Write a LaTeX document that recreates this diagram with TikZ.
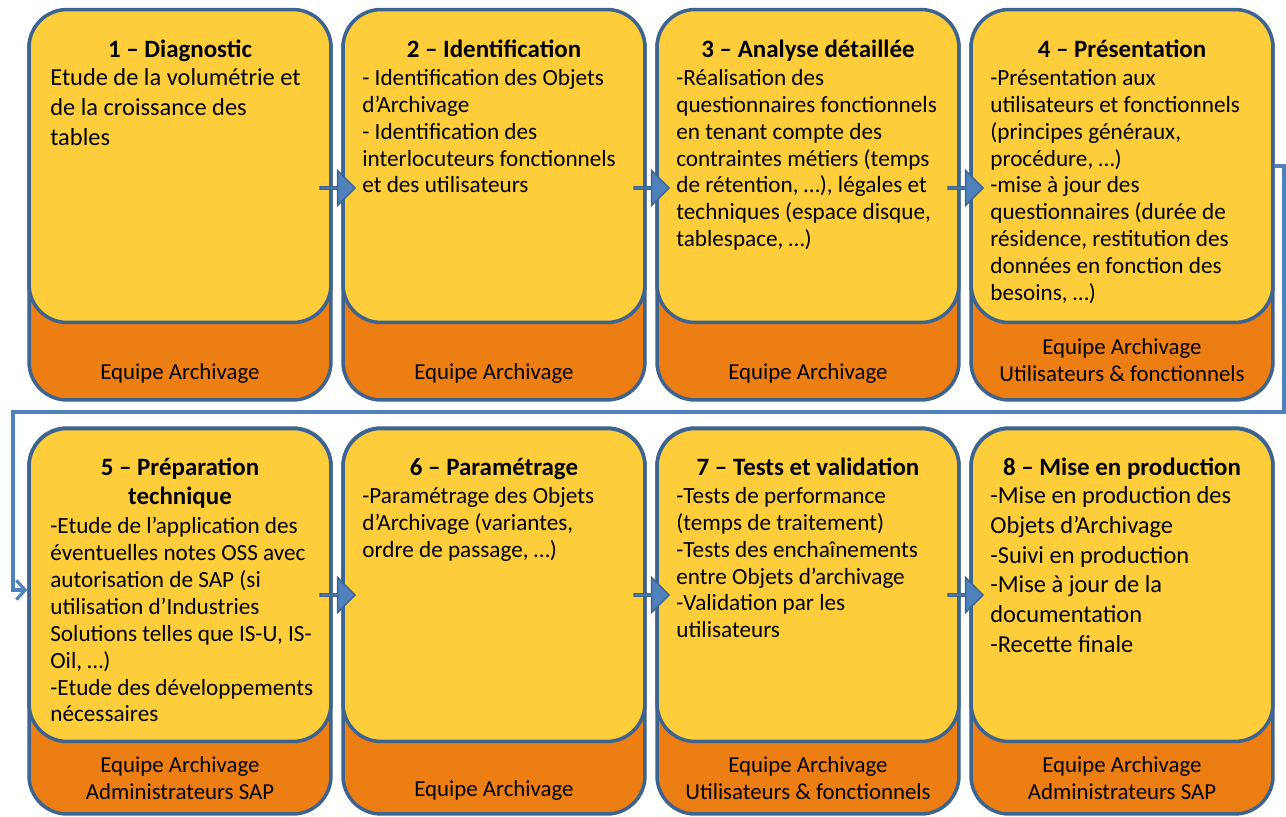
\documentclass[tikz,border=0pt]{standalone}
\usepackage{fontspec}
\setmainfont{Carlito}
\usetikzlibrary{shapes.arrows,arrows.meta}
\definecolor{boxblue}{HTML}{3D6491}
\definecolor{stepyellow}{HTML}{FDCD3B}
\definecolor{teamorange}{HTML}{EC7E14}
\definecolor{flowblue}{HTML}{4F81BD}

\begin{document}
\begin{tikzpicture}[x=0.02cm,y=-0.02cm,
    team/.style={draw=boxblue,fill=teamorange,line width=2pt,rounded corners=0.76cm,minimum width=6.04cm,minimum height=7.8cm,inner sep=0},
    stepbox/.style={draw=boxblue,fill=stepyellow,line width=2pt,rounded corners=0.76cm,minimum width=6.04cm,minimum height=6.26cm,inner sep=0},
    flow/.style={single arrow,draw=boxblue,fill=flowblue,line width=0.8pt,minimum height=0.7cm,minimum width=0.7cm,single arrow head extend=0.18cm,inner sep=0},
    title/.style={anchor=north,inner sep=0,align=center,font=\bfseries\fontsize{14.2}{15.6}\selectfont},
    body/.style={anchor=north west,inner sep=0,align=left,font=\fontsize{13.2}{15.3}\selectfont},
    bigbody/.style={anchor=north west,inner sep=0,align=left,font=\fontsize{13.9}{17}\selectfont},
    who/.style={inner sep=0,align=center,font=\fontsize{13}{15.3}\selectfont},
    back/.style={draw=flowblue,line width=1.8pt},
]
    \useasboundingbox (0,0) rectangle (1286,816);

    % orange boxes (teams)
    \node[team] (t1) at (180,205) {};
    \node[team] (t2) at (494,205) {};
    \node[team] (t3) at (808,205) {};
    \node[team] (t4) at (1122,205) {};
    \node[team,minimum height=7.72cm] (t5) at (180,621) {};
    \node[team,minimum height=7.72cm] (t6) at (494,621) {};
    \node[team,minimum height=7.72cm] (t7) at (808,621) {};
    \node[team,minimum height=7.72cm] (t8) at (1122,621) {};

    % yellow boxes (steps)
    \node[stepbox] (s1) at (180,166) {};
    \node[stepbox] (s2) at (494,166) {};
    \node[stepbox] (s3) at (808,166) {};
    \node[stepbox] (s4) at (1122,166) {};
    \node[stepbox] (s5) at (180,585) {};
    \node[stepbox] (s6) at (494,585) {};
    \node[stepbox] (s7) at (808,585) {};
    \node[stepbox] (s8) at (1122,585) {};

    % block arrows
    \node[flow] (f12) at (337,188) {};
    \node[flow] (f23) at (651,188) {};
    \node[flow] (f34) at (965,188) {};
    \node[flow] (f56) at (337,595) {};
    \node[flow] (f67) at (651,595) {};
    \node[flow] (f78) at (965,595) {};

    % line from step 4 back to step 5
    \draw[back,-{Straight Barb[length=5pt,width=11pt,line width=1.8pt]}] (s4.east) -- (1284,166) -- (1284,412) -- (13,412) -- (13,590) -- (s5.west |- 0,590);

    % titles
    \node[title] (h1) at (180,40) {1 – Diagnostic};
    \node[title] (h2) at (494,40) {2 – Identification};
    \node[title] (h3) at (808,40) {3 – Analyse détaillée};
    \node[title] (h4) at (1122,40) {4 – Présentation};
    \node[title,font=\bfseries\fontsize{14.2}{16}\selectfont] (h5) at (180,458) {5 – Préparation\\technique};
    \node[title] (h6) at (494,458) {6 – Paramétrage};
    \node[title] (h7) at (808,458) {7 – Tests et validation};
    \node[title] (h8) at (1122,458) {8 – Mise en production};

    % texts
    \node[bigbody] (b1) at (50,68) {Etude de la volumétrie et\\de la croissance des\\tables};
    \node[body] (b2) at (362,69) {- Identification des Objets\\d’Archivage\\- Identification des\\interlocuteurs fonctionnels\\et des utilisateurs};
    \node[body] (b3) at (676,69) {-Réalisation des\\questionnaires fonctionnels\\en tenant compte des\\contraintes métiers (temps\\de rétention, …), légales et\\techniques (espace disque,\\tablespace, …)};
    \node[body] (b4) at (990,69) {-Présentation aux\\utilisateurs et fonctionnels\\(principes généraux,\\procédure, …)\\-mise à jour des\\questionnaires (durée de\\résidence, restitution des\\données en fonction des\\besoins, …)};
    \node[body] (b5) at (50,517) {-Etude de l’application des\\éventuelles notes OSS avec\\autorisation de SAP (si\\utilisation d’Industries\\Solutions telles que IS-U, IS-\\Oil, …)\\-Etude des développements\\nécessaires};
    \node[body] (b6) at (362,487) {-Paramétrage des Objets\\d’Archivage (variantes,\\ordre de passage, …)};
    \node[body] (b7) at (676,487) {-Tests de performance\\(temps de traitement)\\-Tests des enchaînements\\entre Objets d’archivage\\-Validation par les\\utilisateurs};
    \node[bigbody] (b8) at (990,486) {-Mise en production des\\Objets d’Archivage\\-Suivi en production\\-Mise à jour de la\\documentation\\-Recette finale};

    % teams
    \node[who] (w1) at (180,374) {Equipe Archivage};
    \node[who] (w2) at (494,374) {Equipe Archivage};
    \node[who] (w3) at (808,374) {Equipe Archivage};
    \node[who] (w4) at (1122,360) {Equipe Archivage\\Utilisateurs \& fonctionnels};
    \node[who] (w5) at (180,778) {Equipe Archivage\\Administrateurs SAP};
    \node[who] (w6) at (494,791) {Equipe Archivage};
    \node[who] (w7) at (808,778) {Equipe Archivage\\Utilisateurs \& fonctionnels};
    \node[who] (w8) at (1122,778) {Equipe Archivage\\Administrateurs SAP};
\end{tikzpicture}
\end{document}
